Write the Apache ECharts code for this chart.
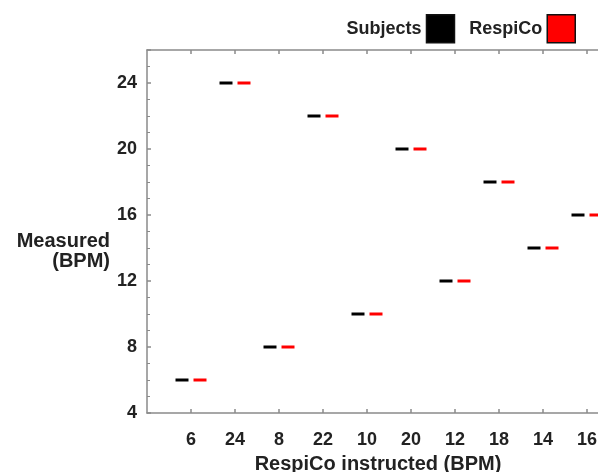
<!DOCTYPE html>
<html>
<head>
<meta charset="utf-8">
<script src="https://cdn.jsdelivr.net/npm/echarts@6/dist/echarts.min.js"></script>
<style>
  html, body { margin: 0; padding: 0; background: #fff; }
  #chart { width: 598px; height: 472px; }
</style>
</head>
<body>
<div id="chart"></div>
<script>
// instructed rates, in the order they appear on the x axis
const categories = ['6', '24', '8', '22', '10', '20', '12', '18', '14', '16'];
const subjectsValues = [6, 24, 8, 22, 10, 20, 12, 18, 14, 16];
const respicoValues = [6, 24, 8, 22, 10, 20, 12, 18, 14, 16];
const yTicks = [4, 8, 12, 16, 20, 24];

const axisColor = '#8a8a8a';
const textColor = '#222';
const font = 'Liberation Sans, Arial, sans-serif';

const chart = echarts.init(document.getElementById('chart'));

const toPoints = (vals) => vals.map((v, i) => [i + 1, v]);
const catPositions = categories.map((c, i) => i + 1);

const xAxisBase = {
  type: 'value',
  min: 0,
  max: 10.5,
  interval: 1,
  axisLine: { show: true, lineStyle: { color: axisColor, width: 1.5 } },
  axisTick: {
    show: true,
    inside: true,
    length: 4,
    lineStyle: { color: axisColor, width: 1.5 },
    customValues: catPositions
  },
  splitLine: { show: false }
};

chart.setOption({
  animation: false,
  grid: { left: 147, right: -11, top: 50, bottom: 59, containLabel: false, outerBoundsMode: 'none' },
  legend: {
    data: ['Subjects', 'RespiCo'],
    right: 17,
    top: 9,
    align: 'right',
    icon: 'rect',
    itemWidth: 28,
    itemHeight: 28,
    itemGap: 14,
    itemStyle: { borderColor: '#111', borderWidth: 1.5, opacity: 1 },
    textStyle: { color: textColor, fontSize: 18, fontWeight: 'bold', fontFamily: font }
  },
  xAxis: [
    Object.assign({}, xAxisBase, {
      position: 'bottom',
      name: 'RespiCo instructed (BPM)',
      nameLocation: 'middle',
      nameGap: 41,
      nameTextStyle: { color: textColor, fontSize: 20, fontWeight: 'bold', fontFamily: font },
      axisLabel: {
        color: textColor,
        fontSize: 18,
        fontWeight: 'bold',
        fontFamily: font,
        margin: 18,
        customValues: catPositions,
        formatter: (v) => categories[Math.round(v) - 1] || ''
      }
    }),
    Object.assign({}, xAxisBase, {
      position: 'top',
      axisLabel: { show: false }
    })
  ],
  yAxis: {
    type: 'value',
    min: 4,
    max: 26,
    interval: 4,
    name: 'Measured\n(BPM)',
    nameLocation: 'middle',
    nameRotate: 0,
    nameGap: 37,
    nameTextStyle: {
      color: textColor,
      fontSize: 20,
      fontWeight: 'bold',
      fontFamily: font,
      align: 'right',
      verticalAlign: 'top',
      lineHeight: 20
    },
    axisLine: { show: true, lineStyle: { color: axisColor, width: 1.5 } },
    axisTick: { show: true, inside: true, length: 4, lineStyle: { color: axisColor, width: 1.5 } },
    minorTick: { show: true, splitNumber: 4, length: 3, lineStyle: { color: axisColor, width: 1 } },
    axisLabel: {
      color: textColor,
      fontSize: 18,
      fontWeight: 'bold',
      fontFamily: font,
      margin: 10,
      customValues: yTicks
    },
    splitLine: { show: false }
  },
  series: [
    {
      name: 'Subjects',
      type: 'scatter',
      data: toPoints(subjectsValues),
      symbol: 'rect',
      symbolSize: [13, 3],
      symbolOffset: [-9, 0],
      itemStyle: { color: '#000', opacity: 1 }
    },
    {
      name: 'RespiCo',
      type: 'scatter',
      data: toPoints(respicoValues),
      symbol: 'rect',
      symbolSize: [13, 3],
      symbolOffset: [9, 0],
      itemStyle: { color: '#ff0000', opacity: 1 }
    }
  ]
});
</script>
</body>
</html>
